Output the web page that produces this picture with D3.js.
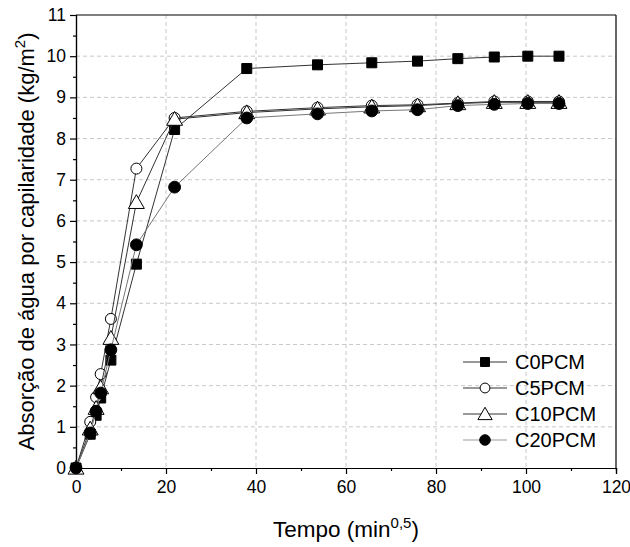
<!DOCTYPE html>
<html>
<head>
<meta charset="utf-8">
<script src="https://cdn.jsdelivr.net/npm/d3@7"></script>
<style>
  body { margin: 0; background: #fff; }
  text { font-family: "Liberation Sans", Arial, sans-serif; }
</style>
</head>
<body>
<script>
// time axis (sqrt of minutes)
var tempo = [0, 3.16, 4.47, 5.48, 7.75, 13.42, 21.91, 37.95, 53.67, 65.73, 75.89, 84.85, 92.95, 100.4, 107.33];

var c0pcm  = [0, 0.82, 1.28, 1.70, 2.62, 4.95, 8.22, 9.70, 9.79, 9.84, 9.88, 9.94, 9.98, 10.0, 10.0];
var c5pcm  = [0, 1.12, 1.72, 2.28, 3.62, 7.27, 8.50, 8.66, 8.75, 8.80, 8.82, 8.86, 8.90, 8.90, 8.90];
var c10pcm = [0, 0.95, 1.45, 1.95, 3.15, 6.45, 8.47, 8.63, 8.72, 8.77, 8.80, 8.85, 8.88, 8.88, 8.88];
var c20pcm = [0, 0.85, 1.38, 1.82, 2.87, 5.42, 6.82, 8.50, 8.60, 8.67, 8.70, 8.80, 8.83, 8.85, 8.85];

var seriesNames = ["C0PCM", "C5PCM", "C10PCM", "C20PCM"];
var xTicks = [0, 20, 40, 60, 80, 100, 120];
var yTicks = [0, 1, 2, 3, 4, 5, 6, 7, 8, 9, 10, 11];

var width = 630, height = 547;
var margin = {left: 76, right: 14, top: 15, bottom: 79};
var w = width - margin.left - margin.right;
var h = height - margin.top - margin.bottom;

var x = d3.scaleLinear().domain([0, 120]).range([0, w]);
var y = d3.scaleLinear().domain([0, 11]).range([h, 0]);

var svg = d3.select("body").append("svg").attr("width", width).attr("height", height);
var g = svg.append("g").attr("transform", "translate(" + margin.left + "," + margin.top + ")");

// grid
g.selectAll(".vgrid").data(xTicks.slice(1, -1)).enter().append("line")
  .attr("x1", d => x(d)).attr("x2", d => x(d)).attr("y1", 0).attr("y2", h)
  .attr("stroke", "#c8c8c8").attr("stroke-dasharray", "4,3");
g.selectAll(".hgrid").data(yTicks.slice(1, -1)).enter().append("line")
  .attr("y1", d => y(d)).attr("y2", d => y(d)).attr("x1", 0).attr("x2", w)
  .attr("stroke", "#c8c8c8").attr("stroke-dasharray", "4,3");

// axes
var xAxis = d3.axisBottom(x).tickValues(xTicks).tickSize(6).tickPadding(7);
var yAxis = d3.axisLeft(y).tickValues(yTicks).tickSize(6).tickPadding(4);
var xMinor = d3.axisBottom(x).tickValues(d3.range(10, 120, 20)).tickSize(3).tickFormat("");
var yMinor = d3.axisLeft(y).tickValues(d3.range(0.5, 11, 1)).tickSize(3).tickFormat("");

function styleAxis(sel) {
  sel.selectAll("path").attr("stroke", "#000").attr("stroke-width", 1.2);
  sel.selectAll("line").attr("stroke", "#000").attr("stroke-width", 1.2);
  sel.selectAll("text").attr("font-size", "17.5px").attr("fill", "#000")
    .style("font-family", "'Liberation Sans', Arial, sans-serif");
}
g.append("g").attr("transform", "translate(0," + h + ")").call(xAxis).call(styleAxis);
g.append("g").attr("transform", "translate(0," + h + ")").call(xMinor).call(styleAxis);
g.append("g").call(yAxis).call(styleAxis);
g.append("g").call(yMinor).call(styleAxis);

// frame top / right
g.append("line").attr("x1", 0).attr("x2", w).attr("y1", 0).attr("y2", 0).attr("stroke", "#000").attr("stroke-width", 1.2);
g.append("line").attr("x1", w).attr("x2", w).attr("y1", 0).attr("y2", h).attr("stroke", "#000").attr("stroke-width", 1.2);

// series
var allValues = [c0pcm, c5pcm, c10pcm, c20pcm];
var lineColors = ["#333", "#333", "#333", "#777"];
var symbols = [d3.symbolSquare, d3.symbolCircle, d3.symbolTriangle, d3.symbolCircle];
var symSizes = [100, 95, 110, 110];
var fills = ["#000", "#fff", "#fff", "#000"];

var line = d3.line().x(d => x(d[0])).y(d => y(d[1]));

allValues.forEach(function(vals, k) {
  var pts = tempo.map((t, i) => [t, vals[i]]);
  g.append("path").attr("d", line(pts)).attr("fill", "none")
    .attr("stroke", lineColors[k]).attr("stroke-width", 1);
  g.selectAll(".m" + k).data(pts).enter().append("path")
    .attr("transform", d => "translate(" + x(d[0]) + "," + (y(d[1]) + (symbols[k] === d3.symbolTriangle ? 1.5 : 0)) + ")")
    .attr("d", d3.symbol().type(symbols[k]).size(symSizes[k]))
    .attr("fill", fills[k]).attr("stroke", "#000").attr("stroke-width", 1);
});

// legend
var legend = svg.append("g").attr("transform", "translate(463,362)");
seriesNames.forEach(function(name, k) {
  var ly = k * 26;
  legend.append("line").attr("x1", 0).attr("x2", 44).attr("y1", ly).attr("y2", ly)
    .attr("stroke", k === 3 ? "#999" : "#333").attr("stroke-width", 1);
  legend.append("path")
    .attr("transform", "translate(22," + (ly + (symbols[k] === d3.symbolTriangle ? 1.5 : 0)) + ")")
    .attr("d", d3.symbol().type(symbols[k]).size(symSizes[k] * 0.8))
    .attr("fill", fills[k]).attr("stroke", "#000").attr("stroke-width", 1);
  legend.append("text").attr("x", 52).attr("y", ly + 7)
    .attr("font-size", "20px").text(name);
});

// axis titles
var xt = svg.append("text").attr("x", margin.left + w / 2).attr("y", 537)
  .attr("text-anchor", "middle").attr("font-size", "22.5px");
xt.append("tspan").text("Tempo (min");
xt.append("tspan").attr("dy", -9).attr("font-size", "15px").text("0,5");
xt.append("tspan").attr("dy", 9).text(")");

var yt = svg.append("text").attr("transform", "translate(34," + (margin.top + h / 2) + ") rotate(-90)")
  .attr("text-anchor", "middle").attr("font-size", "22px");
yt.append("tspan").text("Absorção de água por capilaridade (kg/m");
yt.append("tspan").attr("dy", -9).attr("font-size", "15px").text("2");
yt.append("tspan").attr("dy", 9).text(")");
</script>
</body>
</html>
